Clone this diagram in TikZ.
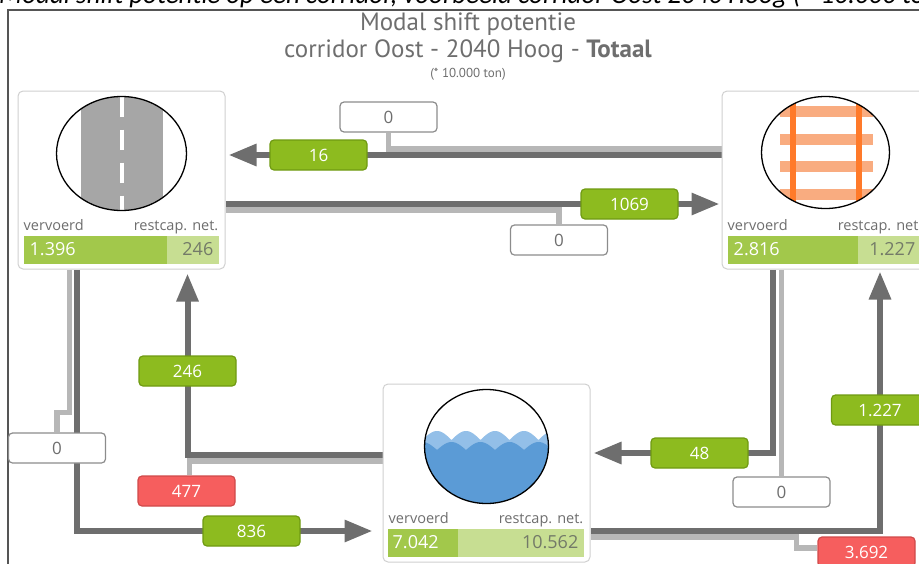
\documentclass[tikz,border=0pt]{standalone}
\usepackage{fontspec}
\setmainfont{Open Sans}
\newfontfamily\titlefont{PT Sans}
\newfontfamily\capfont{Carlito}
\usetikzlibrary{arrows.meta,backgrounds,calc}
\definecolor{dline}{HTML}{6E6E6E}
\definecolor{lline}{HTML}{B7B7B7}
\definecolor{vgreen}{HTML}{8DBB1F}
\definecolor{vgreenb}{HTML}{6F9A12}
\definecolor{bardark}{HTML}{A2C84B}
\definecolor{barlight}{HTML}{C7DE92}
\definecolor{vred}{HTML}{F65E5E}
\definecolor{vredb}{HTML}{CF4A4A}
\definecolor{txtgray}{HTML}{6E6E6E}
\definecolor{bartxt}{HTML}{737A68}
\definecolor{boxborder}{HTML}{D0D0D0}
\definecolor{roadgray}{HTML}{A6A6A6}
\definecolor{railor}{HTML}{FF7A2A}
\definecolor{sleeper}{HTML}{F9AC80}
\definecolor{waterdark}{HTML}{5B9BD6}
\definecolor{waterlight}{HTML}{93BFE8}
\definecolor{framecol}{HTML}{555555}
\tikzset{
  modebox/.style={draw=boxborder, line width=1pt, fill=white, rounded corners=5pt,
    minimum width=207pt, minimum height=178pt, inner sep=0pt},
  valbox/.style={rounded corners=4pt, minimum width=97pt, minimum height=30pt,
    inner sep=0pt, line width=1.2pt, font=\fontsize{17}{17}\selectfont},
  gbox/.style={valbox, fill=vgreen, draw=vgreenb, text=white},
  wbox/.style={valbox, fill=white, draw=gray!90, text=txtgray},
  rbox/.style={valbox, fill=vred, draw=vredb, text=white},
  dk/.style={draw=dline, line width=6pt},
  lt/.style={draw=lline, line width=5.5pt},
  arr/.style={-{Triangle[length=28pt,width=21pt]}},
  lbl/.style={inner sep=0pt, text=txtgray, font=\fontsize{14.5}{14.5}\selectfont},
  barval/.style={inner sep=0pt, font=\fontsize{18}{18}\selectfont},
  ring/.style={draw=black, line width=1.3pt},
}
\begin{document}
\begin{tikzpicture}[x=1pt,y=-1pt]
\useasboundingbox (0,0) rectangle (919,563);
% caption (cut off at the top)
\node[anchor=base west, inner sep=0pt, font=\capfont\itshape\fontsize{27}{27}\selectfont] (cap) at (-1,3.5) {Modal shift potentie op een corridor, voorbeeld corridor Oost 2040 Hoog (* 10.000 ton)};
% title
\node[anchor=base, inner sep=0pt, text=txtgray, font=\titlefont\fontsize{25}{25}\selectfont] (t1) at (468,30) {Modal shift potentie};
\node[anchor=base, inner sep=0pt, text=txtgray, font=\titlefont\fontsize{25}{25}\selectfont] (t2) at (468,57) {corridor Oost - 2040 Hoog - \textbf{Totaal}};
\node[anchor=base, inner sep=0pt, text=txtgray, font=\titlefont\fontsize{13}{13}\selectfont] (t3) at (468,77) {(* 10.000 ton)};

% mode boxes
\node[modebox] (road) at (121.5,180) {};
\node[modebox] (rail) at (825.5,180) {};
\node[modebox] (water) at (486.5,473) {};

% road icon
\coordinate (roadc) at ($(road.north)+(0,63)$);
\begin{scope}
\clip (roadc) ellipse [x radius=65pt, y radius=57pt];
\fill[white] (roadc) ellipse [x radius=65pt, y radius=57pt];
\fill[roadgray] ($(roadc)+(-41,-60)$) rectangle ($(roadc)+(41,60)$);
\draw[white, line width=4pt, dash pattern=on 20pt off 13pt] ($(roadc)+(0,-57)$) -- ($(roadc)+(0,57)$);
\end{scope}
\draw[ring] (roadc) ellipse [x radius=65pt, y radius=57pt];

% rail icon
\coordinate (railc) at ($(rail.north)+(0,62)$);
\begin{scope}
\clip (railc) ellipse [x radius=64pt, y radius=56pt];
\fill[white] (railc) ellipse [x radius=64pt, y radius=56pt];
\foreach \dy in {-41,-13,14,42}{
  \fill[sleeper] ($(railc)+(-46,\dy-5.5)$) rectangle ($(railc)+(47,\dy+5.5)$);
}
\fill[railor] ($(railc)+(-36,-60)$) rectangle ($(railc)+(-30,60)$);
\fill[railor] ($(railc)+(30,-60)$) rectangle ($(railc)+(36,60)$);
\end{scope}
\draw[ring] (railc) ellipse [x radius=64pt, y radius=56pt];

% water icon
\coordinate (waterc) at (486.5,446.5);
\begin{scope}
\clip (waterc) ellipse [x radius=62pt, y radius=57pt];
\fill[white] (waterc) ellipse [x radius=62pt, y radius=57pt];
\fill[waterlight] plot[domain=420:553, samples=140] (\x,{440-9*abs(cos((\x-437)/29*180))}) -- (553,510) -- (420,510) -- cycle;
\fill[waterdark] plot[domain=420:553, samples=140] (\x,{450-8*abs(cos((\x-451.5)/29*180))}) -- (553,510) -- (420,510) -- cycle;
\end{scope}
\draw[ring] (waterc) ellipse [x radius=62pt, y radius=57pt];

% bars and labels
\node[lbl, anchor=base west] (roadl) at ($(road.south west)+(6,-39)$) {vervoerd};
\node[lbl, anchor=base east] (roadr) at ($(road.south east)+(-7,-39)$) {restcap. net.};
\fill[bardark] ($(road.south west)+(6,-6)$) rectangle ($(road.south west)+(149,-34)$);
\fill[barlight] ($(road.south west)+(149,-6)$) rectangle ($(road.south east)+(-7,-34)$);
\node[barval, text=white, anchor=base west] (roadv) at ($(road.south west)+(12,-14)$) {1.396};
\node[barval, text=bartxt, anchor=base east] (roadc2) at ($(road.south east)+(-12,-14)$) {246};

\node[lbl, anchor=base west] (raill) at ($(rail.south west)+(6,-39)$) {vervoerd};
\node[lbl, anchor=base east] (railr) at ($(rail.south east)+(-7,-39)$) {restcap. net.};
\fill[bardark] ($(rail.south west)+(6,-6)$) rectangle ($(rail.south west)+(136,-34)$);
\fill[barlight] ($(rail.south west)+(136,-6)$) rectangle ($(rail.south east)+(-7,-34)$);
\node[barval, text=white, anchor=base west] (railv) at ($(rail.south west)+(12,-14)$) {2.816};
\node[barval, text=bartxt, anchor=base east] (railc2) at ($(rail.south east)+(-14,-14)$) {1.227};

\node[lbl, anchor=base west] (waterl) at ($(water.south west)+(6,-39)$) {vervoerd};
\node[lbl, anchor=base east] (waterr) at ($(water.south east)+(-7,-39)$) {restcap. net.};
\fill[bardark] ($(water.south west)+(5,-6)$) rectangle ($(water.south west)+(75,-34)$);
\fill[barlight] ($(water.south west)+(75,-6)$) rectangle ($(water.south east)+(-7,-34)$);
\node[barval, text=white, anchor=base west] (waterv) at ($(water.south west)+(10,-14)$) {7.042};
\node[barval, text=bartxt, anchor=base east] (waterc2) at ($(water.south east)+(-12,-14)$) {10.562};

% value boxes
\node[gbox] (v16) at (318.5,155) {16};
\node[wbox] (z0a) at (388.5,117) {0};
\node[gbox] (v1069) at (629.5,204) {1069};
\node[wbox] (z0b) at (559,240) {0};
\node[wbox] (z0c) at (57,448) {0};
\node[gbox] (v836) at (251.5,531) {836};
\node[gbox] (v246) at (187.5,371) {246};
\node[rbox] (r477) at (186.5,491) {477};
\node[gbox] (v48) at (699.5,453) {48};
\node[wbox] (z0d) at (781.5,492) {0};
\node[gbox] (v1227) at (880,410) {1.227};
\node[rbox] (r3692) at (866.5,552) {3.692};

\begin{scope}[on background layer]
\draw[framecol, line width=1.5pt] (8,620) |- (960,10);
% road <- rail
\draw[lt] ($(rail.west |- v16)+(0,-6)$) -| (z0a.south);
\draw[dk, arr, shorten >=3pt] (rail.west |- v16) -- (road.east |- v16);
% road -> rail
\draw[lt] ($(road.east |- v1069)+(0,6)$) -| (z0b.north);
\draw[dk, arr, shorten >=2pt] (road.east |- v1069) -- (rail.west |- v1069);
% road -> water
\draw[lt] ($(road.south west)+(52,0)$) -- ++(0,143) -| (z0c.north);
\draw[dk, arr, shorten >=10pt] ($(road.south west)+(59,0)$) |- (v836.center) -- (water.west |- v836);
% water -> road
\draw[lt] ($(water.west)+(0,-12)$) -| ($(r477.north)+(3,0)$);
\draw[dk, arr, shorten >=4pt] ($(water.west)+(0,-18)$) -| (v246.center) -- (v246 |- road.south);
% rail -> water
\draw[lt] (rail.south -| z0d) -- (z0d.north);
\draw[dk, arr, shorten >=3pt] ($(rail.south west)+(51,0)$) |- (v48.center) -- (water.east |- v48);
% water -> rail
\draw[lt] ($(water.east)+(0,64)$) -| ($(r3692.west)+(-21,-4)$) -- ($(r3692.west)+(0,-4)$);
\draw[dk, arr, shorten >=2pt] ($(water.east)+(0,58)$) -| (v1227.center) -- (v1227 |- rail.south);
\end{scope}
\end{tikzpicture}
\end{document}
